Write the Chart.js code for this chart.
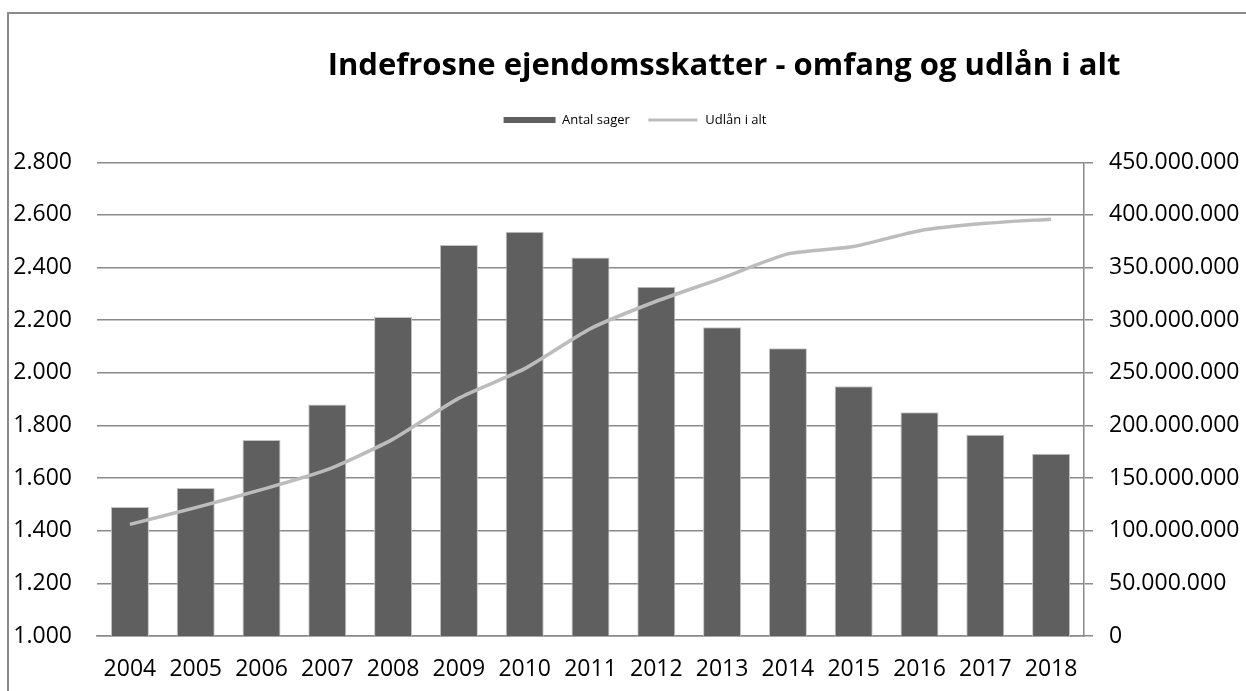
<!DOCTYPE html>
<html>
<head>
<meta charset="utf-8">
<script src="https://cdn.jsdelivr.net/npm/chart.js@4/dist/chart.umd.min.js"></script>
<style>
  body { margin: 0; background: #fff; overflow: hidden; }
  #wrap { position: relative; width: 1246px; height: 691px; overflow: hidden; }
  #frame { position: absolute; left: 7px; top: 12px; width: 2000px; height: 2000px; border: 2px solid #8a8a8a; box-sizing: border-box; }
  #title { position: absolute; left: 8px; width: 1432px; top: 43px; line-height: 40px; text-align: center;
           font-family: "Open Sans", sans-serif; font-weight: bold; font-size: 31px; color: #000; white-space: nowrap; }
  #box { position: absolute; left: 0; top: 0; width: 1246px; height: 691px; }
</style>
</head>
<body>
<div id="wrap">
  <div id="frame"></div>
  <div id="box"><canvas id="myChart"></canvas></div>
  <div id="title">Indefrosne ejendomsskatter - omfang og udlån i alt</div>
</div>
<script>
const years = ["2004", "2005", "2006", "2007", "2008", "2009", "2010", "2011", "2012", "2013", "2014", "2015", "2016", "2017", "2018"];
const antalSager = [1490, 1562, 1745, 1880, 2212, 2486, 2536, 2438, 2327, 2173, 2093, 1949, 1850, 1765, 1693];
const udlaanIAlt = [106000000, 122000000, 139000000, 158000000, 187000000, 226000000, 254000000, 292000000, 318000000, 340000000, 363000000, 370000000, 385000000, 392000000, 396000000];
const seriesNames = ["Antal sager", "Udlån i alt"];

const dots = (v) => String(v).replace(/\B(?=(\d{3})+(?!\d))/g, ".");
const gridColor = "#8a8a8a";
const tickFont = { family: "Open Sans", size: 23 };

new Chart("myChart", {
  type: "bar",
  data: {
    labels: years,
    datasets: [
      {
        type: "line",
        label: seriesNames[1],
        data: udlaanIAlt,
        yAxisID: "y2",
        borderColor: "#bcbcbc",
        backgroundColor: "#bcbcbc",
        borderWidth: 3.5,
        pointRadius: 0,
        tension: 0.2,
        order: 0,
      },
      {
        label: seriesNames[0],
        data: antalSager,
        yAxisID: "y",
        backgroundColor: "#5f5f5f",
        borderColor: "#c4c4c4",
        borderWidth: 1,
        categoryPercentage: 1,
        barPercentage: 0.578,
        order: 1,
      },
    ],
  },
  options: {
    responsive: true,
    maintainAspectRatio: false,
    animation: false,
    // right padding is negative so the legend sits where Excel put it
    layout: { padding: { top: 96.5, left: 0, right: -24, bottom: 0 } },
    plugins: {
      tooltip: { enabled: false },
      legend: {
        position: "top",
        labels: {
          font: { family: "Open Sans", size: 13 },
          color: "#000",
          boxWidth: 52,
          boxHeight: 6,
          padding: 17,
          generateLabels: () => [
            { text: seriesNames[0], fillStyle: "#5f5f5f", strokeStyle: "#5f5f5f", lineWidth: 0, datasetIndex: 1 },
            { text: seriesNames[1], fillStyle: "#bcbcbc", strokeStyle: "#ffffff", lineWidth: 3, datasetIndex: 0 },
          ],
        },
      },
      subtitle: {
        display: true,
        text: "",
        weight: 500,
        padding: 0,
        font: { size: 1, lineHeight: 25.8 },
      },
    },
    scales: {
      x: {
        grid: { display: false },
        border: { display: true, color: gridColor, width: 1.5 },
        ticks: { font: tickFont, color: "#000", padding: 12, maxRotation: 0, autoSkip: false },
        afterFit: (scale) => { scale.height = 55; },
      },
      y: {
        position: "left",
        min: 1000,
        max: 2800,
        ticks: { stepSize: 200, font: tickFont, color: "#000", padding: 25, callback: (v) => dots(v) },
        grid: { color: gridColor, lineWidth: 1.5, drawTicks: false },
        border: { display: false },
        afterFit: (scale) => { scale.width = 97; },
      },
      y2: {
        position: "right",
        min: 0,
        max: 450000000,
        ticks: { stepSize: 50000000, font: tickFont, color: "#000", padding: 16, callback: (v) => dots(v) },
        grid: { drawOnChartArea: false, drawTicks: true, tickLength: 9, color: gridColor, lineWidth: 1.5 },
        border: { display: true, color: gridColor, width: 1.5 },
        afterFit: (scale) => { scale.width = 186; },
      },
    },
  },
});
</script>
</body>
</html>
